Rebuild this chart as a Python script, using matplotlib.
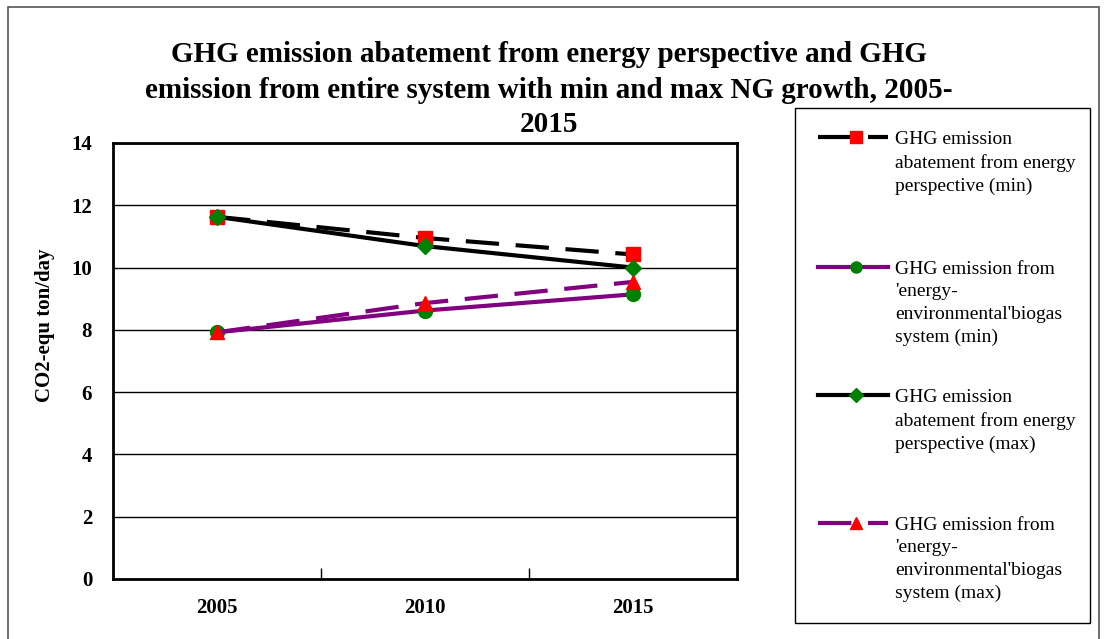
import matplotlib
matplotlib.use("Agg")
import matplotlib.pyplot as plt
from matplotlib.lines import Line2D
from matplotlib.patches import Rectangle

years = ["2005", "2010", "2015"]
abatement_min = [11.63, 10.95, 10.42]
emission_min = [7.92, 8.62, 9.14]
abatement_max = [11.63, 10.69, 10.00]
emission_max = [7.92, 8.86, 9.54]

title_lines = ["GHG emission abatement from energy perspective and GHG",
               "emission from entire system with min and max NG growth, 2005-",
               "2015"]
ylabel = "CO2-equ ton/day"
legend_labels = [
    "GHG emission\nabatement from energy\nperspective (min)",
    "GHG emission from\n'energy-\nenvironmental'biogas\nsystem (min)",
    "GHG emission\nabatement from energy\nperspective (max)",
    "GHG emission from\n'energy-\nenvironmental'biogas\nsystem (max)",
]

W, H = 1105, 639
SERIF = "Liberation Serif"
fig = plt.figure(figsize=(W / 100, H / 100), dpi=100)

def fx(px):
    return px / W

def fy(py):
    return 1 - py / H

# outer frame
fig.patches.append(Rectangle((fx(8), fy(660)), fx(1099) - fx(8), fy(7) - fy(660),
                             transform=fig.transFigure, fill=False,
                             edgecolor="#555555", linewidth=1.2))

ax = fig.add_axes([fx(113), fy(579), fx(737) - fx(113), fy(143) - fy(579)])
x = list(range(len(years)))

styles = [
    dict(data=abatement_min, color="black", ls=(0, (8, 4)), marker="s", mfc="red", ms=10),
    dict(data=emission_min, color="#800080", ls="-", marker="o", mfc="green", ms=10),
    dict(data=abatement_max, color="black", ls="-", marker="D", mfc="green", ms=8.5),
    dict(data=emission_max, color="#800080", ls=(0, (8, 4)), marker="^", mfc="red", ms=10),
]
for i, s in enumerate(styles):
    ax.plot(x, s["data"], color=s["color"], linestyle=s["ls"], linewidth=3,
            marker=s["marker"], markerfacecolor=s["mfc"], markeredgecolor=s["mfc"],
            markersize=s["ms"], zorder=3 + i, clip_on=False)

ax.set_xlim(-0.5, 2.5)
ax.set_ylim(0, 14)
ax.set_yticks(range(0, 15, 2))
ax.yaxis.grid(True, color="black", linewidth=1)
ax.set_axisbelow(True)
ax.set_xticks(x)
ax.set_xticklabels(years)
ax.set_xticks([0.5, 1.5], minor=True)
ax.tick_params(axis="x", which="major", length=0, pad=14)
ax.tick_params(axis="x", which="minor", direction="in", length=8, width=1)
ax.tick_params(axis="y", length=0, pad=15)
for lab in ax.get_xticklabels() + ax.get_yticklabels():
    lab.set_fontfamily(SERIF)
    lab.set_fontweight("bold")
    lab.set_fontsize(15)
for sp in ax.spines.values():
    sp.set_linewidth(2)
    sp.set_color("black")

fig.text(fx(45), fy(325), ylabel, rotation=90, ha="center", va="center",
         fontfamily=SERIF, fontweight="bold", fontsize=15)

for ty, line in zip([55, 91, 125], title_lines):
    fig.text(fx(549), fy(ty), line, ha="center", va="center",
             fontfamily=SERIF, fontweight="bold", fontsize=21)

# legend
fig.patches.append(Rectangle((fx(795), fy(623)), fx(1090) - fx(795), fy(108) - fy(623),
                             transform=fig.transFigure, fill=False,
                             edgecolor="black", linewidth=1))
entry_y = [137, 267, 395, 523]
for s, label, ey in zip(styles, legend_labels, entry_y):
    fig.lines.append(Line2D([fx(818), fx(888)], [fy(ey), fy(ey)], transform=fig.transFigure,
                            color=s["color"], linestyle=s["ls"], linewidth=3))
    fig.lines.append(Line2D([fx(856)], [fy(ey)], transform=fig.transFigure,
                            marker=s["marker"], markerfacecolor=s["mfc"],
                            markeredgecolor=s["mfc"], markersize=s["ms"] * 0.8,
                            linestyle="none"))
    fig.text(fx(895), fy(ey - 6), label, ha="left", va="top",
             fontfamily=SERIF, fontsize=14, linespacing=1.42)

fig.savefig("out.png", dpi=100)
